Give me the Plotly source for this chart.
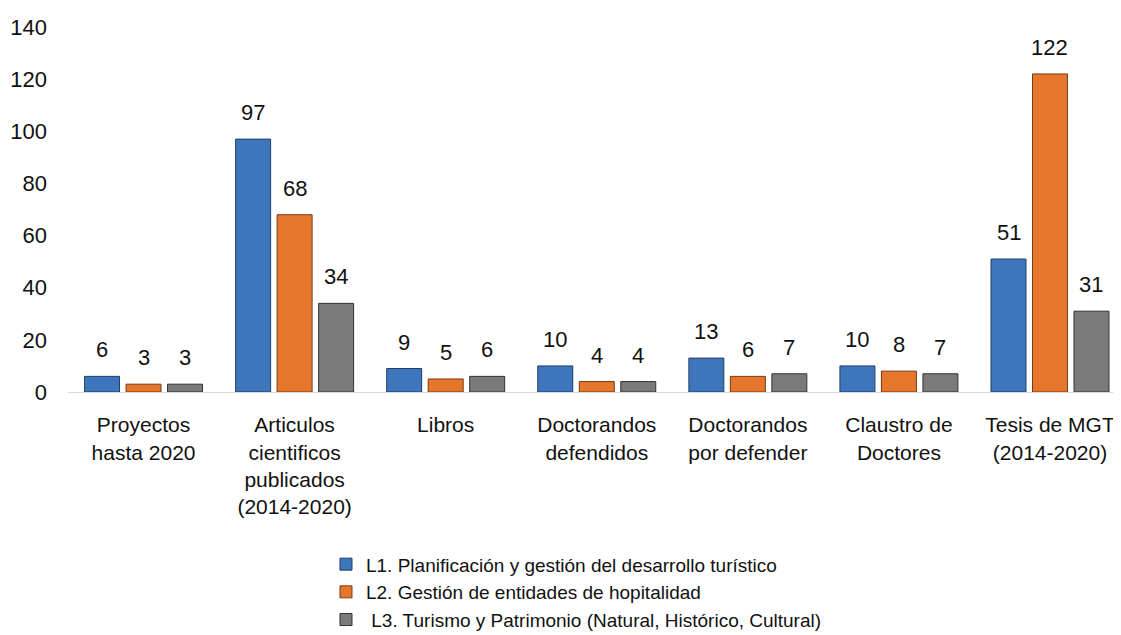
import plotly.graph_objects as go

categories = ["Proyectos<br>hasta 2020", "Articulos<br>cientificos<br>publicados<br>(2014-2020)",
              "Libros", "Doctorandos<br>defendidos", "Doctorandos<br>por defender",
              "Claustro de<br>Doctores", "Tesis de MGT<br>(2014-2020)"]
series_names = ["L1. Planificación y gestión del desarrollo turístico",
                "L2. Gestión de entidades de hopitalidad",
                " L3. Turismo y Patrimonio (Natural, Histórico, Cultural)"]
l1 = [6, 97, 9, 10, 13, 10, 51]
l2 = [3, 68, 5, 4, 6, 8, 122]
l3 = [3, 34, 6, 4, 7, 7, 31]
colors = ["#3d76bd", "#e5762c", "#7a7a7a"]
edge = ["#1f3f66", "#7a3a10", "#333333"]

font = "Liberation Sans, Arial, sans-serif"
bargap = 0.176
slot = (1 - bargap) / 3

fig = go.Figure()
annotations = []
for k, (name, vals, c, e) in enumerate(zip(series_names, [l1, l2, l3], colors, edge)):
    xs = list(range(len(categories)))
    fig.add_trace(go.Bar(
        x=xs, y=vals, name=name, legendgroup=f"g{k}",
        marker=dict(color=c, line=dict(color=e, width=1)),
    ))
    for i, v in zip(xs, vals):
        annotations.append(dict(
            x=i + (k - 1) * slot, y=v, xref="x", yref="y", text=str(v),
            showarrow=False, yanchor="bottom", xanchor="center", yshift=12,
            font=dict(size=22, family=font, color="#111111"),
        ))

fig.update_layout(
    width=1113, height=627,
    margin=dict(l=60, r=0, t=19, b=243, autoexpand=False),
    paper_bgcolor="white", plot_bgcolor="white",
    barmode="group", bargap=bargap, bargroupgap=0.157,
    font=dict(family=font, size=20, color="#111111"),
    showlegend=True,
    annotations=annotations,
    legend=dict(orientation="v", x=0.245, xanchor="left", y=-0.42, yanchor="top",
                font=dict(size=19, family=font, color="#111111"),
                itemwidth=30, tracegroupgap=5, traceorder="normal"),
    xaxis=dict(tickmode="array", tickvals=list(range(len(categories))), ticktext=categories,
               range=[-0.5, 6.47], showgrid=False, showline=True, linecolor="#d9d9d9",
               linewidth=1, ticks="", tickfont=dict(size=21, family=font, color="#111111"),
               ticklabelstandoff=14, tickangle=0, automargin=False,
               ticklabeloverflow="allow"),
    yaxis=dict(range=[0, 140], dtick=20, showgrid=False, showline=False, zeroline=False,
               ticks="", tickfont=dict(size=22, family=font, color="#111111"),
               ticklabelstandoff=20, automargin=False),
)

fig.write_html("out.html")
